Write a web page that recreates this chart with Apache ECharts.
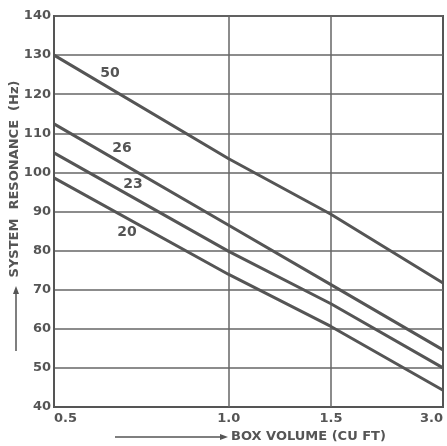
<!DOCTYPE html>
<html>
<head>
<meta charset="utf-8">
<script src="https://cdn.jsdelivr.net/npm/echarts@6/dist/echarts.min.js"></script>
<style>html,body{margin:0;padding:0;background:#fff;}#c{width:447px;height:446px;}</style>
</head>
<body>
<div id="c"></div>
<script>
// Box volume positions (gridlines) as drawn on the reference; the right edge is printed "3.0"
var xVolumes = [0.5, 1.0, 1.5, 2.34];
var xTickLabels = ['0.5', '1.0', '1.5', '3.0'];
var yTicks = [40, 50, 60, 70, 80, 90, 100, 110, 120, 130, 140];
var curveNames = ['50', '26', '23', '20'];
var res50 = [130, 103.5, 89.3, 71.7];
var res26 = [112.4, 86.5, 71.3, 54.6];
var res23 = [105, 79.8, 66.4, 50];
var res20 = [98.6, 73.9, 60.6, 44.3];

var ink = '#555';
var font = 'DejaVu Sans';
var allSeries = [res50, res26, res23, res20];

var chart = echarts.init(document.getElementById('c'), null, {renderer: 'canvas'});

var series = allSeries.map(function (vals, i) {
  var s = {
    name: curveNames[i],
    type: 'line',
    symbol: 'none',
    silent: true,
    lineStyle: {color: ink, width: 3},
    data: vals.map(function (v, j) { return [xVolumes[j], v]; }),
    z: 3
  };
  if (i === 0) {
    s.markLine = {
      silent: true,
      symbol: ['none', 'none'],
      label: {show: false},
      lineStyle: {color: '#666', width: 1.5, type: 'solid'},
      data: [{xAxis: xVolumes[1]}, {xAxis: xVolumes[2]}],
      z: 1
    };
  }
  return s;
});

function txt(x, y, s, size, extra) {
  var o = {type: 'text', x: x, y: y, style: {text: s, fill: ink, font: 'bold ' + size + 'px "DejaVu Sans"', align: 'center', verticalAlign: 'middle'}};
  if (extra) { for (var k in extra) o[k] = extra[k]; }
  return o;
}

var option = {
  animation: false,
  backgroundColor: '#fff',
  grid: {left: 54, right: 4, top: 16, bottom: 39, show: true, borderColor: ink, borderWidth: 2, containLabel: false},
  xAxis: {
    type: 'log',
    logBase: 10,
    min: xVolumes[0],
    max: xVolumes[3],
    axisLine: {show: true, lineStyle: {color: ink, width: 2}},
    axisTick: {show: false},
    splitLine: {show: false},
    axisLabel: {
      customValues: xVolumes,
      formatter: function (v) {
        for (var i = 0; i < xVolumes.length; i++) {
          if (Math.abs(xVolumes[i] - v) < 1e-6) return xTickLabels[i];
        }
        return '';
      },
      alignMinLabel: 'left',
      alignMaxLabel: 'right',
      color: ink,
      fontFamily: font,
      fontWeight: 'bold',
      fontSize: 13,
      margin: 5
    }
  },
  yAxis: {
    type: 'value',
    min: yTicks[0],
    max: yTicks[yTicks.length - 1],
    interval: 10,
    axisLine: {show: true, lineStyle: {color: ink, width: 2}},
    axisTick: {show: false},
    splitLine: {show: true, lineStyle: {color: '#666', width: 1.5}},
    axisLabel: {color: ink, fontFamily: font, fontWeight: 'bold', fontSize: 13, margin: 3}
  },
  graphic: [
    txt(110, 73, curveNames[0], 14),
    txt(122, 148, curveNames[1], 14),
    txt(133, 184, curveNames[2], 14),
    txt(127, 232, curveNames[3], 14),
    txt(15, 179, 'SYSTEM  RESONANCE  (Hz)', 13, {rotation: Math.PI / 2}),
    {type: 'line', shape: {x1: 16, y1: 351, x2: 16, y2: 292}, style: {stroke: ink, lineWidth: 1.5}},
    {type: 'polygon', shape: {points: [[16, 286], [13, 294], [19, 294]]}, style: {fill: ink}},
    {type: 'line', shape: {x1: 115, y1: 437, x2: 222, y2: 437}, style: {stroke: ink, lineWidth: 1.5}},
    {type: 'polygon', shape: {points: [[228, 437], [220, 434], [220, 440]]}, style: {fill: ink}},
    {type: 'text', x: 231, y: 437, style: {text: 'BOX VOLUME (CU FT)', fill: ink, font: 'bold 13px "DejaVu Sans"', align: 'left', verticalAlign: 'middle'}}
  ],
  series: series
};
chart.setOption(option);
</script>
</body>
</html>
